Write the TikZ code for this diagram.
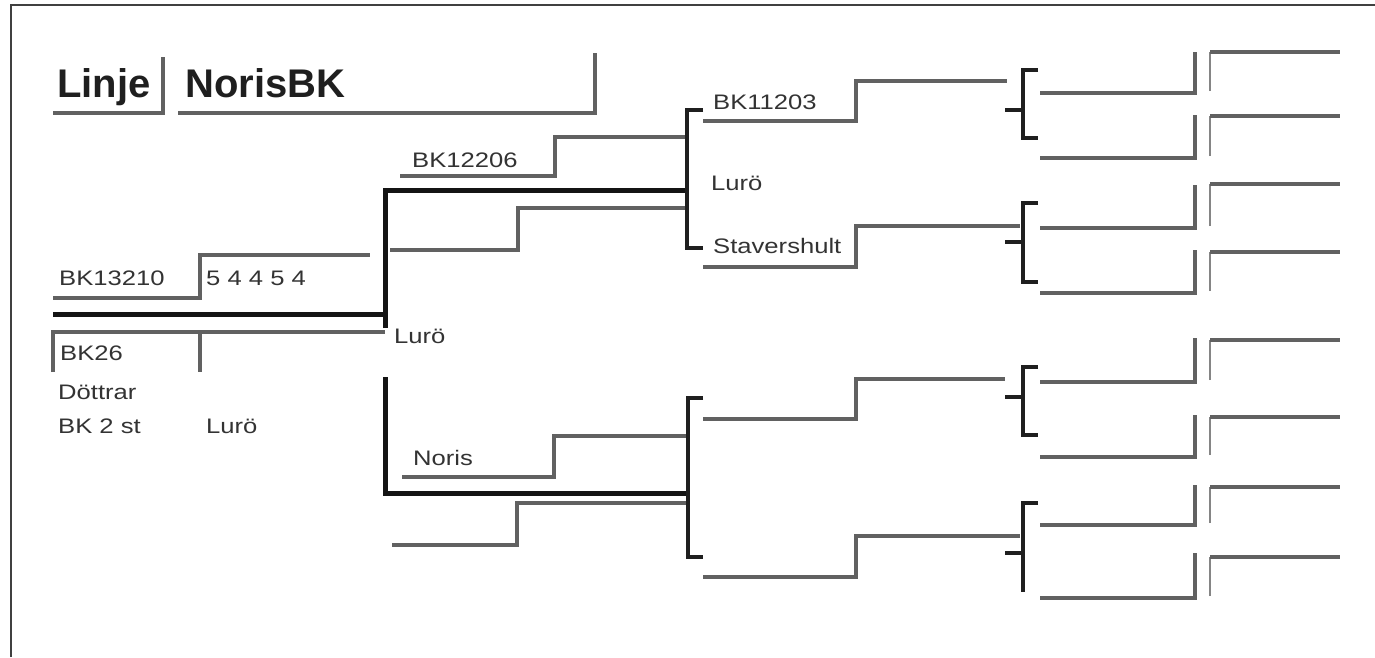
\documentclass[tikz,border=0pt]{standalone}
\usepackage{fontspec}
\setmainfont{Liberation Sans}
\newfontfamily\lblfont[FakeStretch=1.22]{Liberation Sans}
\begin{document}
\begin{tikzpicture}[x=1pt,y=-1pt,
  grayline/.style={draw=black!62,line width=3.6pt},
  thinline/.style={draw=black!48,line width=2.8pt},
  thickline/.style={draw=black!92,line width=5pt},
  brack/.style={draw=black!88,line width=4.6pt},
  frameline/.style={draw=black!75,line width=1.6pt},
  lbl/.style={anchor=base west,inner sep=0pt,text=black!80,font=\lblfont\fontsize{21}{21}\selectfont},
  ttl/.style={anchor=base west,inner sep=0pt,text=black!88,font=\bfseries\fontsize{40}{40}\selectfont}]
\useasboundingbox (0,0) rectangle (1375,657);
% frame
\coordinate (fr1) at (11,657);
\coordinate (fr2) at (11,5);
\coordinate (fr3) at (1375,5);
\draw[frameline] (fr1) -- (fr2) -- (fr3);
% title
\node[ttl] (linje) at (57,97) {Linje};
\node[ttl] (noris) at (185,97) {NorisBK};
\coordinate (t1a) at (53,113); \coordinate (t1b) at (163,113); \coordinate (t1c) at (163,57);
\coordinate (t2a) at (178,113); \coordinate (t2b) at (595,113); \coordinate (t2c) at (595,53);
\draw[grayline] (t1a) -- (t1b) -- (t1c);
\draw[grayline] (t2a) -- (t2b) -- (t2c);
% root labels
\node[lbl] (bk13210) at (59,285) {BK13210};
\node[lbl] (pts) at (206,285) {5 4 4 5 4};
\node[lbl] (bk26) at (60,360) {BK26};
\node[lbl] (dottrar) at (58,399) {Döttrar};
\node[lbl] (bk2st) at (58,433) {BK 2 st};
\node[lbl] (luroA) at (206,433) {Lurö};
\node[lbl] (luroB) at (394,343) {Lurö};
% root lines
\coordinate (r1) at (53,298); \coordinate (r2) at (200,298); \coordinate (r3) at (200,255); \coordinate (r4) at (370,255);
\draw[grayline] (r1) -- (r2) -- (r3) -- (r4);
\coordinate (m1) at (53,314); \coordinate (m2) at (385,314);
\draw[thickline] (m1) -- (m2);
\coordinate (u1) at (385,328); \coordinate (u2) at (385,190); \coordinate (u3) at (687,190);
\draw[thickline] (u1) -- (u2) -- (u3);
\coordinate (d1) at (53,372); \coordinate (d2) at (53,332); \coordinate (d3) at (385,332);
\coordinate (d4) at (200,332); \coordinate (d5) at (200,372);
\draw[grayline] (d1) -- (d2) -- (d3);
\draw[grayline] (d4) -- (d5);
\coordinate (l1) at (385,377); \coordinate (l2) at (385,493); \coordinate (l3) at (687,493);
\draw[thickline] (l1) -- (l2) -- (l3);
% generation 2 upper
\node[lbl] (bk12206) at (412,167) {BK12206};
\coordinate (a1) at (400,176); \coordinate (a2) at (555,176); \coordinate (a3) at (555,137); \coordinate (a4) at (687,137);
\draw[grayline] (a1) -- (a2) -- (a3) -- (a4);
\coordinate (b1) at (390,250); \coordinate (b2) at (518,250); \coordinate (b3) at (518,208); \coordinate (b4) at (687,208);
\draw[grayline] (b1) -- (b2) -- (b3) -- (b4);
\coordinate (k1) at (703,110); \coordinate (k2) at (687,110); \coordinate (k3) at (687,248); \coordinate (k4) at (703,248);
\draw[brack] (k1) -- (k2) -- (k3) -- (k4);
% generation 2 lower
\node[lbl] (norisn) at (413,465) {Noris};
\coordinate (c1) at (402,477); \coordinate (c2) at (554,477); \coordinate (c3) at (554,436); \coordinate (c4) at (687,436);
\draw[grayline] (c1) -- (c2) -- (c3) -- (c4);
\coordinate (e1) at (392,545); \coordinate (e2) at (517,545); \coordinate (e3) at (517,503); \coordinate (e4) at (687,503);
\draw[grayline] (e1) -- (e2) -- (e3) -- (e4);
\coordinate (n1) at (703,398); \coordinate (n2) at (688,398); \coordinate (n3) at (688,557); \coordinate (n4) at (703,557);
\draw[brack] (n1) -- (n2) -- (n3) -- (n4);
% generation 3 labels
\node[lbl] (bk11203) at (713,109) {BK11203};
\node[lbl] (luroC) at (711,190) {Lurö};
\node[lbl] (staver) at (713,253) {Stavershult};
% generation 3 lines
\foreach \i/\yl/\yh/\xe in {1/121/81/1007, 2/267/226/1020, 3/419/379/1005, 4/577/536/1020}{
  \coordinate (p\i a) at (703,\yl); \coordinate (p\i b) at (856,\yl);
  \coordinate (p\i c) at (856,\yh); \coordinate (p\i d) at (\xe,\yh);
  \draw[grayline] (p\i a) -- (p\i b) -- (p\i c) -- (p\i d);
}
% generation 3 brackets
\foreach \i/\yt/\ym/\yb in {1/70/110/138, 2/203/242/282, 3/367/397/435}{
  \coordinate (q\i a) at (1038,\yt); \coordinate (q\i b) at (1023,\yt);
  \coordinate (q\i c) at (1023,\yb); \coordinate (q\i d) at (1038,\yb);
  \coordinate (q\i e) at (1005,\ym); \coordinate (q\i f) at (1023,\ym);
  \draw[brack] (q\i a) -- (q\i b) -- (q\i c) -- (q\i d);
  \draw[brack] (q\i e) -- (q\i f);
}
\coordinate (q4a) at (1038,503); \coordinate (q4b) at (1023,503); \coordinate (q4c) at (1023,592);
\coordinate (q4e) at (1005,553); \coordinate (q4f) at (1023,553);
\draw[brack] (q4a) -- (q4b) -- (q4c);
\draw[brack] (q4e) -- (q4f);
% generations 4 and 5
\foreach \j/\h/\t/\g in {1/93/52/52, 2/158/115/116, 3/228/185/184, 4/293/250/252, 5/382/338/340, 6/457/415/417, 7/525/485/487, 8/598/553/557}{
  \coordinate (s\j a) at (1040,\h); \coordinate (s\j b) at (1195,\h); \coordinate (s\j c) at (1195,\t);
  \draw[grayline] (s\j a) -- (s\j b) -- (s\j c);
  \coordinate (v\j a) at (1210,\h-2); \coordinate (v\j b) at (1210,\g); \coordinate (v\j c) at (1340,\g);
  \draw[thinline] (v\j a) -- (v\j b);
  \draw[grayline] (v\j b) -- (v\j c);
}
\end{tikzpicture}
\end{document}
